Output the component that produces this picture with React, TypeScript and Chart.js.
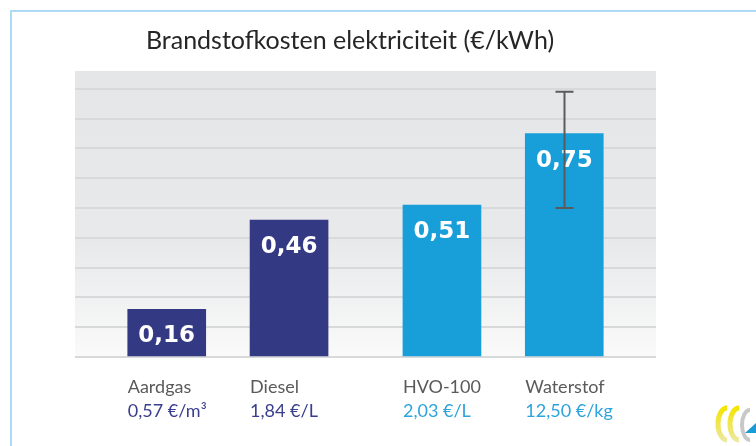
import React, { useEffect, useRef } from "react";
import { Chart, registerables } from "chart.js";

Chart.register(...registerables);

// ---- data ----
const categories = ["Aardgas", "Diesel", "HVO-100", "Waterstof"];
const costPerKWh = [0.16, 0.46, 0.51, 0.75];
const fuelPrices = ["0,57 €/m³", "1,84 €/L", "2,03 €/L", "12,50 €/kg"];
const errorLow = [null, null, null, 0.5];
const errorHigh = [null, null, null, 0.89];
const titleText = "Brandstofkosten elektriciteit (€/kWh)";

// ---- layout / style ----
const SLOT_COUNT = 20;
const SLOT_OF_BAR = [3, 7, 12, 16];
const DARK = "#343984";
const LIGHT = "#189fda";
const barColors = [DARK, DARK, LIGHT, LIGHT];
const priceColors = ["#3a3f8c", "#3a3f8c", "#2ea4dc", "#2ea4dc"];

const barIndexOfSlot = (slot: number) => SLOT_OF_BAR.indexOf(slot);
const slotArray = <T,>(src: T[], empty: T): T[] =>
  Array.from({ length: SLOT_COUNT }, (_, s) => {
    const b = barIndexOfSlot(s);
    return b >= 0 ? src[b] : empty;
  });

const fmt = (v: number) => v.toFixed(2).replace(".", ",");

const backgroundPlugin = {
  id: "plotBackground",
  beforeDraw(chart: any) {
    const { ctx, chartArea } = chart;
    const g = ctx.createLinearGradient(0, chartArea.top, 0, chartArea.bottom);
    g.addColorStop(0, "#e5e6e8");
    g.addColorStop(0.6, "#e8e9eb");
    g.addColorStop(1, "#fafafa");
    ctx.save();
    ctx.fillStyle = g;
    ctx.fillRect(chartArea.left, chartArea.top, chartArea.right - chartArea.left, chartArea.bottom - chartArea.top);
    ctx.restore();
  },
};

const labelAndErrorPlugin = {
  id: "labelsAndErrors",
  afterDatasetsDraw(chart: any) {
    const { ctx } = chart;
    const meta = chart.getDatasetMeta(0);
    const yScale = chart.scales.y;
    ctx.save();
    // value labels
    ctx.font = "bold 23px 'DejaVu Sans'";
    ctx.fillStyle = "#ffffff";
    ctx.textAlign = "center";
    ctx.textBaseline = "middle";
    SLOT_OF_BAR.forEach((slot, b) => {
      const el = meta.data[slot];
      if (!el) return;
      ctx.fillText(fmt(costPerKWh[b]), el.x, el.y + 27);
    });
    // error bars
    ctx.strokeStyle = "#5b5b5b";
    ctx.lineWidth = 2;
    SLOT_OF_BAR.forEach((slot, b) => {
      const lo = errorLow[b];
      const hi = errorHigh[b];
      if (lo == null || hi == null) return;
      const el = meta.data[slot];
      const x = Math.round(el.x) + 0.5;
      const yl = yScale.getPixelForValue(lo);
      const yh = yScale.getPixelForValue(hi);
      ctx.beginPath();
      ctx.moveTo(x, yl);
      ctx.lineTo(x, yh);
      ctx.moveTo(x - 9, yl);
      ctx.lineTo(x + 9, yl);
      ctx.moveTo(x - 9, yh);
      ctx.lineTo(x + 9, yh);
      ctx.stroke();
    });
    ctx.restore();
  },
};

export default function App() {
  const ref = useRef<HTMLCanvasElement | null>(null);

  useEffect(() => {
    if (!ref.current) return;
    const nameLabels = slotArray(categories, "");
    const priceLabels = slotArray(fuelPrices, "");
    const chart = new Chart(ref.current, {
      type: "bar",
      data: {
        labels: nameLabels,
        datasets: [
          {
            data: slotArray<number | null>(costPerKWh, null),
            backgroundColor: (c: any) => barColors[barIndexOfSlot(c.dataIndex)] || "transparent",
            barThickness: 78,
            borderWidth: 0,
          },
        ],
      },
      options: {
        responsive: false,
        animation: false,
        events: [],
        layout: { padding: { left: 44, right: 44, top: 26, bottom: 23 } },
        plugins: {
          legend: { display: false },
          tooltip: { enabled: false },
          title: {
            display: true,
            text: titleText,
            color: "#262626",
            font: { family: "Lato", size: 25, weight: "normal" },
            padding: { top: 0, bottom: 15 },
          },
        },
        scales: {
          y: {
            min: 0,
            max: 0.96,
            ticks: { display: false, stepSize: 0.1 },
            border: { display: false },
            grid: {
              drawTicks: false,
              lineWidth: 2,
              color: (c: any) => {
                const v = c.tick ? c.tick.value * 10 : 0.5;
                return Math.abs(v - Math.round(v)) < 1e-6 ? "#d8d9db" : "rgba(0,0,0,0)";
              },
            },
            afterFit: (s: any) => {
              s.width = 31;
            },
          },
          x: {
            offset: false,
            grid: { display: false, drawTicks: false },
            border: { display: false },
            ticks: {
              autoSkip: false,
              maxRotation: 0,
              minRotation: 0,
              align: "start",
              labelOffset: -39,
              padding: 19,
              color: "#5a5a5a",
              font: { family: "Lato", size: 18 },
            },
            afterFit: (s: any) => {
              s.height = 40;
            },
          },
          x2: {
            type: "category",
            position: "bottom",
            labels: priceLabels,
            offset: false,
            grid: { display: false, drawTicks: false },
            border: { display: false },
            ticks: {
              autoSkip: false,
              maxRotation: 0,
              minRotation: 0,
              align: "start",
              labelOffset: -39,
              padding: 3,
              color: (c: any) => priceColors[barIndexOfSlot(c.index)] || "#000",
              font: { family: "Lato", size: 18 },
            },
            afterFit: (s: any) => {
              s.height = 26;
            },
          },
        },
      } as any,
      plugins: [backgroundPlugin, labelAndErrorPlugin],
    });
    return () => chart.destroy();
  }, []);

  return (
    <div style={{ position: "fixed", left: 0, top: 0, width: 756, height: 446, background: "#fff", overflow: "hidden" }}>
      <div
        style={{
          position: "absolute",
          left: 10,
          top: 10,
          width: 760,
          height: 450,
          borderTop: "2px solid #addbf6",
          borderLeft: "2px solid #addbf6",
        }}
      />
      <canvas ref={ref} width={700} height={446} style={{ position: "absolute", left: 0, top: 0 }} />
      <svg width={43} height={41} viewBox="0 0 43 41" style={{ position: "absolute", left: 713, top: 403 }}>
        <defs>
          <linearGradient id="yg" x1="0" y1="0" x2="0" y2="1">
            <stop offset="0" stopColor="#f4e400" />
            <stop offset="1" stopColor="#ece8a0" />
          </linearGradient>
        </defs>
        <path d="M 14 5 A 9 16 0 0 0 14 37" fill="none" stroke="url(#yg)" strokeWidth={5} />
        <path d="M 26 5 A 9 16 0 0 0 26 37" fill="none" stroke="url(#yg)" strokeWidth={5} />
        <path d="M 37 7 A 8 15 0 0 0 37 37" fill="none" stroke="#c8c8c8" strokeWidth={4} />
        <path d="M 32 30 L 43 20 L 43 30 Z" fill="#1a9ad6" />
      </svg>
    </div>
  );
}
